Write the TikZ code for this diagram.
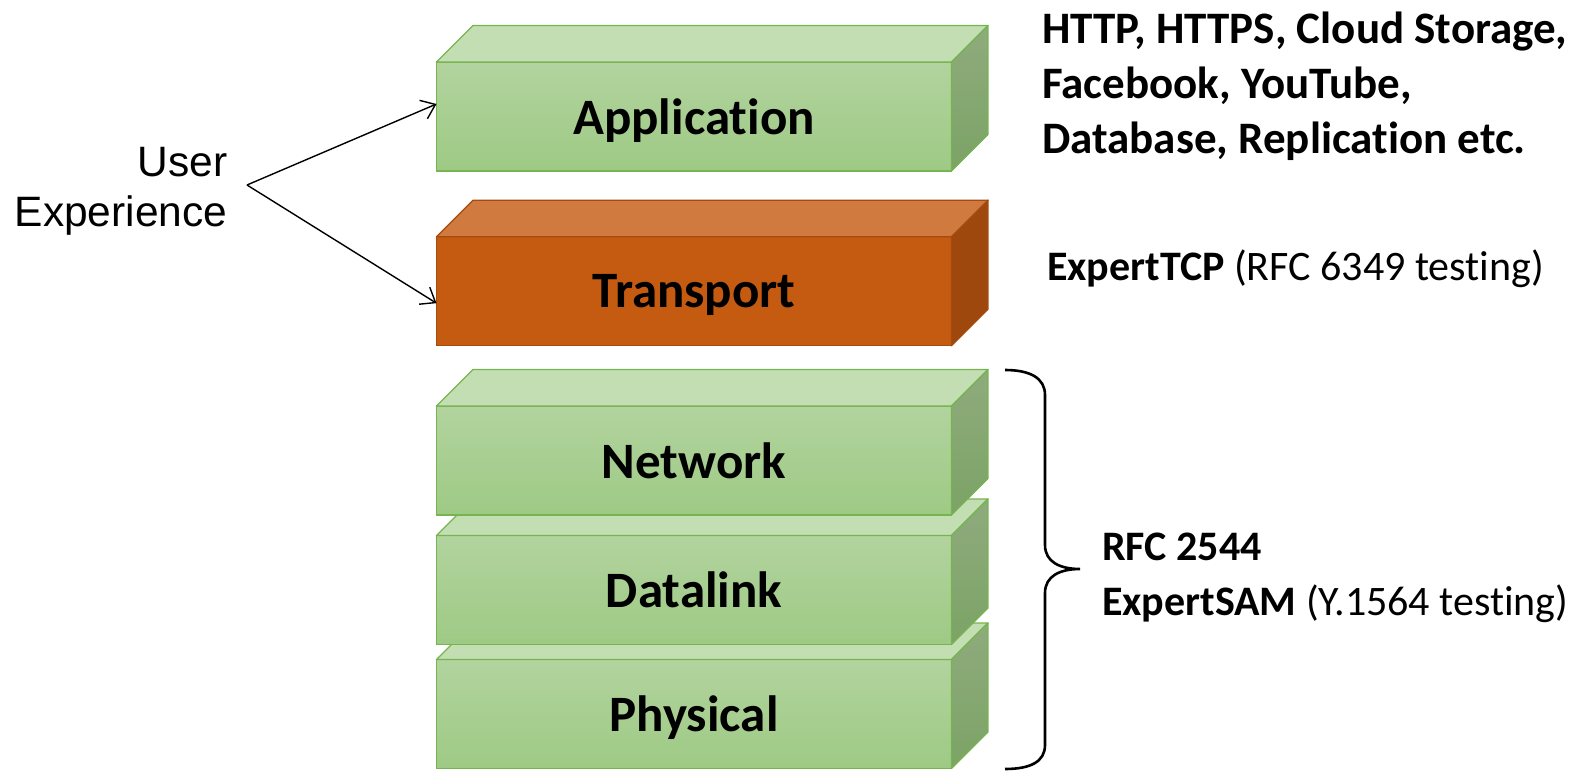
\documentclass[tikz,border=0pt]{standalone}
\usepackage{fontspec}
\setmainfont{Carlito}[Ligatures=NoCommon]
\newfontfamily\arialf{Liberation Sans}
\usetikzlibrary{arrows.meta}
\definecolor{gborder}{RGB}{118,180,80}
\definecolor{gfronttop}{RGB}{178,211,158}
\definecolor{gfrontbot}{RGB}{158,202,133}
\definecolor{gtop}{RGB}{196,222,180}
\definecolor{gsidetop}{RGB}{143,171,125}
\definecolor{gsidebot}{RGB}{124,163,102}
\definecolor{oborder}{RGB}{165,75,15}
\definecolor{ofronttop}{RGB}{197,90,17}
\definecolor{ofrontbot}{RGB}{197,90,17}
\definecolor{otop}{RGB}{208,122,64}
\definecolor{osidetop}{RGB}{158,72,14}
\definecolor{osidebot}{RGB}{158,72,14}
\newcommand\layerbox[4]{%
  \node[front, draw=#4border, top color=#4fronttop, bottom color=#4frontbot] (#1) at (436.5,#2) {#3};
  \path[face, fill=#4top, draw=#4border] (#1.north west) -- ++(36.5,-36.5) -- ++(515,0) -- (#1.north east) -- cycle;
  \path[face, draw=#4border, top color=#4sidetop, bottom color=#4sidebot] (#1.north east) -- ++(36.5,-36.5) -- ++(0,109) -- (#1.south east) -- cycle;
}
\begin{document}
\begin{tikzpicture}[x=1pt,y=-1pt,
  front/.style={line width=1.3pt, minimum width=515pt, minimum height=109pt,
    inner sep=0pt, outer sep=0pt, anchor=north west, text depth=0pt,
    font=\fontsize{51}{60}\selectfont\bfseries, text=black},
  face/.style={line width=1.3pt, line join=round},
  arrowline/.style={line width=1.4pt, -{Straight Barb[length=13pt,width=20pt,line width=1.4pt]}},
  bigtext/.style={font=\fontsize{45}{55}\selectfont\bfseries, align=left, inner sep=0pt},
  midtext/.style={font=\fontsize{42}{55}\selectfont, align=left, inner sep=0pt},
]
\useasboundingbox (0,0) rectangle (1583,771);

\layerbox{app}{62}{Application}{g}
\layerbox{trans}{236.7}{Transport}{o}
\layerbox{phys}{659.5}{Physical}{g}
\layerbox{dlink}{535.5}{Datalink}{g}
\layerbox{net}{406}{Network}{g}

\node[anchor=base east, align=right, inner sep=0pt, font=\arialf\fontsize{42.5}{50}\selectfont] (ux-label) at (227.5,226) {User\\Experience};
\coordinate (ux) at (247,185);
\draw[arrowline] (ux) -- ([yshift=12.5pt]app.west);
\draw[arrowline] (ux) -- ([yshift=-12pt]trans.west);

\node[bigtext, anchor=base west] (apps) at (1042,153.5) {HTTP, HTTPS, Cloud Storage,\\Facebook, YouTube,\\Database, Replication etc.};
\node[midtext, anchor=base west] (tcp) at (1047,280.5) {\textbf{ExpertTCP} (RFC 6349 testing)};
\node[midtext, anchor=base west] (sam) at (1102,615) {\textbf{RFC 2544}\\\textbf{ExpertSAM} (Y.1564 testing)};

\draw[line width=2.6pt] (1005,370) .. controls (1030,370) and (1045,378) .. (1045,395)
  -- (1045,545) .. controls (1045,562) and (1060,569) .. (1080,569)
  .. controls (1060,569) and (1045,576) .. (1045,593)
  -- (1045,745) .. controls (1045,762) and (1030,769) .. (1005,769);
\end{tikzpicture}
\end{document}
